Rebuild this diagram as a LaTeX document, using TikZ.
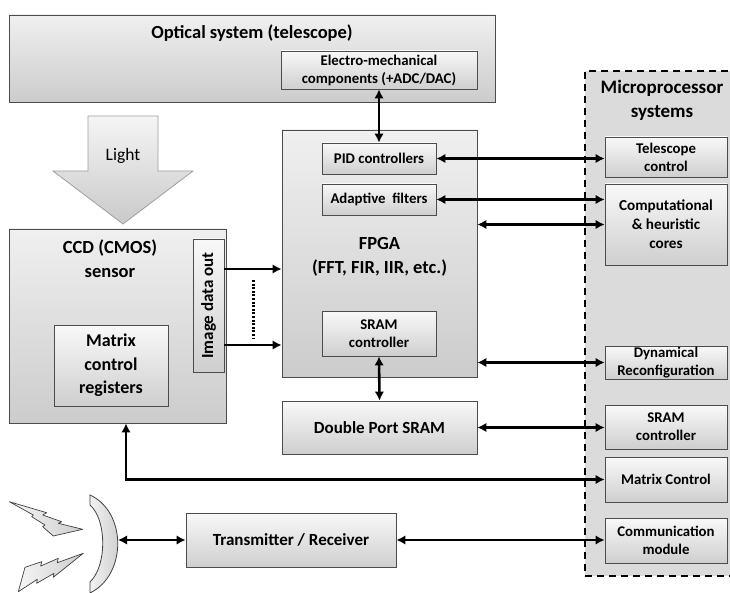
\documentclass[tikz,border=0pt]{standalone}
\usepackage{fontspec}
\setmainfont{Carlito}
\usetikzlibrary{arrows.meta,shadows}
\begin{document}
\begin{tikzpicture}[x=1pt,y=-1pt,
  box/.style={draw=black!70, line width=0.8pt, top color=gray!5, bottom color=gray!38, inner sep=0pt, align=center,
    font=\fontsize{14.8}{18}\selectfont\bfseries,
    drop shadow={shadow xshift=1.3pt, shadow yshift=-1.3pt, opacity=0.3}},
  bigbox/.style={box, top color=gray!12, bottom color=gray!40},
  bigtext/.style={font=\fontsize{18.5}{23.5}\selectfont\bfseries, align=center, inner sep=0pt},
  conn/.style={line width=2.6pt, {Latex[length=9pt,width=9.5pt]}-{Latex[length=9pt,width=9.5pt]}},
  one/.style={line width=2.6pt, -{Latex[length=9pt,width=9.5pt]}},
  bolt/.style={draw=black!75, line width=0.7pt, left color=gray!8, right color=gray!38, line join=round},
]
\useasboundingbox (0,0) rectangle (730,593);
\clip (0,0) rectangle (730,593);

% microprocessor region
\node[fill=gray!28, draw=black, line width=2pt, dash pattern=on 7pt off 5pt,
      minimum width=155, minimum height=505, inner sep=0pt] (micro) at (662.5,323.5) {};
\node[bigtext, font=\fontsize{19}{24}\selectfont\bfseries] (microtxt) at (662,100) {Microprocessor\\systems};

% optical system
\node[bigbox, minimum width=486, minimum height=87] (opt) at (252,58.5) {};
\node[bigtext] (opttxt) at (252,33) {Optical system (telescope)};
\node[box, minimum width=196, minimum height=38] (em) at (379,70) {Electro-mechanical\\components (+ADC/DAC)};

% light arrow
\draw[draw=gray!75, line width=0.8pt, top color=gray!8, bottom color=gray!42]
  (88,116) -- (158,116) -- (158,171) -- (193,171) -- (123,224) -- (53,171) -- (88,171) -- cycle;
\node[font=\fontsize{17.5}{20}\selectfont, inner sep=0pt] (light) at (123,156) {Light};

% FPGA
\node[bigbox, minimum width=195, minimum height=247] (fpga) at (379.5,253.5) {};
\node[bigtext] (fpgatxt) at (379.5,257) {FPGA\\(FFT, FIR, IIR, etc.)};
\node[box, minimum width=114, minimum height=31] (pid) at (379,158.5) {PID controllers};
\node[box, minimum width=114, minimum height=31] (ada) at (379,199.5) {Adaptive\ \ filters};
\node[box, minimum width=114, minimum height=45] (sramin) at (379,333.5) {SRAM\\controller};
\node[box, minimum width=195, minimum height=53, font=\fontsize{17}{20}\selectfont\bfseries] (dps) at (379.5,427.5) {Double Port SRAM};

% CCD
\node[bigbox, minimum width=217, minimum height=194] (ccd) at (117.5,326) {};
\node[bigtext] (ccdtxt) at (110,258.5) {CCD (CMOS)\\sensor};
\node[box, minimum width=31, minimum height=133, font=\fontsize{17}{20}\selectfont\bfseries] (img) at (208.5,305.5) {\rotatebox{90}{Image data out}};
\node[box, minimum width=114, minimum height=81, font=\fontsize{18}{23.5}\selectfont\bfseries] (mcr) at (111,365.5) {Matrix\\control\\registers};

% right column boxes
\node[box, minimum width=122, minimum height=40] (tel) at (666,157) {Telescope\\control};
\node[box, minimum width=122, minimum height=81, font=\fontsize{15.2}{19}\selectfont\bfseries] (comp) at (666,224.5) {Computational\\\& heuristic\\cores};
\node[box, minimum width=122, minimum height=33] (dyn) at (666,362.5) {Dynamical\\Reconfiguration};
\node[box, minimum width=122, minimum height=44] (sramr) at (666,427) {SRAM\\controller};
\node[box, minimum width=122, minimum height=45] (mc) at (666,479.5) {Matrix Control};
\node[box, minimum width=122, minimum height=45] (comm) at (666,540.5) {Communication\\module};

% transmitter
\node[box, minimum width=210, minimum height=54, font=\fontsize{17}{20}\selectfont\bfseries] (trx) at (291,540) {Transmitter / Receiver};

% dish
\draw[draw=black!75, line width=0.8pt, left color=gray!10, right color=gray!45]
  (90,495) .. controls (127,512) and (127,575) .. (90,593)
  -- (90,582) .. controls (107,566) and (107,520) .. (90,505) -- cycle;
\coordinate (dishR) at (118,540);

% lightning bolts
\draw[bolt] (9.3,501.7) -- (46.7,512.7) -- (42.7,515) -- (61.7,521.7) -- (58.3,523.3) -- (82.7,529.3)
  -- (53.3,536) -- (42.7,526.7) -- (45,525) -- (31.7,516.7) -- (33.3,515) -- cycle;
\draw[bolt] (18.3,591.7) -- (25,567.3) -- (41.7,561.7) -- (40.7,566) -- (58.3,558.3) -- (57.3,562.7) -- (83.3,553.3)
  -- (53.3,577.3) -- (54,573.3) -- (36.7,583.3) -- (37.3,579.3) -- cycle;

% connectors
\draw[conn] (em.south) -- (pid.north);
\draw[conn] (sramin.south) -- (dps.north);
\draw[conn] (pid.east) -- (pid.east -| tel.west);
\draw[conn] (ada.east) -- (ada.east -| comp.west);
\draw[conn] (comp.west -| fpga.east) -- (comp.west);
\draw[conn] (dyn.west -| fpga.east) -- (dyn.west);
\draw[conn] (dps.east) -- (dps.east -| sramr.west);
\draw[conn] (mc.west) -| ([xshift=8.5pt]ccd.south);
\draw[conn] (trx.east) -- (trx.east -| comm.west);
\draw[conn] (dishR) -- (trx.west);

\coordinate (o1) at ([yshift=36.5pt]img.east);
\coordinate (o2) at ([yshift=-39.5pt]img.east);
\draw[one] (o1) -- (o1 -| fpga.west);
\draw[one] (o2) -- (o2 -| fpga.west);
\coordinate (d1) at (253,280);
\coordinate (d2) at (253,338);
\draw[line width=3pt, dash pattern=on 2pt off 1.6pt] (d1) -- (d2);
\end{tikzpicture}
\end{document}
